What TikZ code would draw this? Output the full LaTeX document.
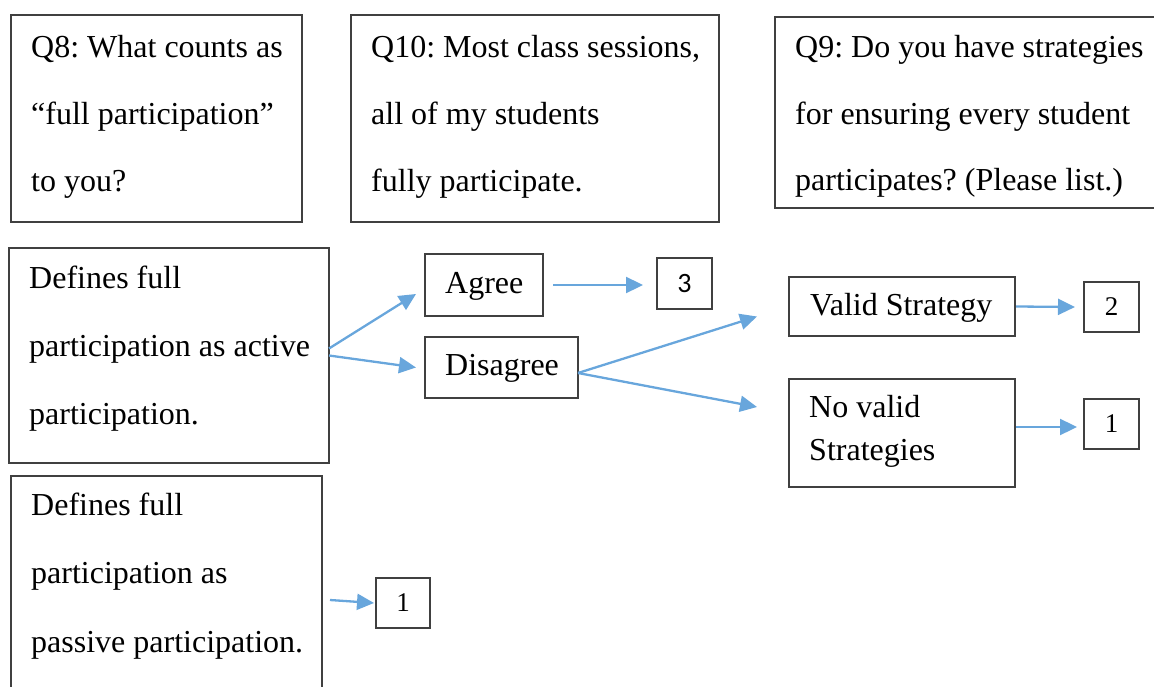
\documentclass[tikz,border=0pt]{standalone}
\usepackage{fontspec}
\setmainfont{Liberation Serif}
\newfontfamily\numsans{Carlito}
\usetikzlibrary{arrows.meta}
\definecolor{boxline}{RGB}{64,64,64}
\definecolor{flow}{RGB}{104,166,220}
\frenchspacing
\begin{document}
\begin{tikzpicture}[x=1pt,y=-1pt,
  box/.style={draw=boxline, line width=1.6pt, anchor=north west, inner sep=0pt, outer sep=0pt},
  txt/.style={anchor=base west, inner sep=0pt, font=\fontsize{32}{38}\selectfont},
  num/.style={font=\fontsize{27}{32}\selectfont},
  arr/.style={draw=flow, line width=2.3pt, -{Triangle[length=17pt,width=16pt]}}]
\useasboundingbox (0,0) rectangle (1154,687);

% question boxes
\node[box, minimum width=291, minimum height=207] (q8)  at (11,15) {};
\node[box, minimum width=368, minimum height=207] (q10) at (351,15) {};
\node[box, minimum width=390, minimum height=191] (q9)  at (775,17) {};

\node[txt] (q8a) at (31,58)  {Q8: What counts as};
\node[txt] (q8b) at (31,125) {“full participation”};
\node[txt] (q8c) at (31,192) {to you?};

\node[txt] (q10a) at (371,58)  {Q10: Most class sessions,};
\node[txt] (q10b) at (371,125) {all of my students};
\node[txt] (q10c) at (371,192) {fully participate.};

\begin{scope}
  \clip (775,17) rectangle (1160,197);
  \node[txt] (q9a) at (795,58)  {Q9: Do you have strategies};
  \node[txt] (q9b) at (795,125) {for ensuring every student};
  \node[txt] (q9c) at (795,191) {participates? (Please list.)};
\end{scope}

% answer boxes
\node[box, minimum width=320, minimum height=215] (act) at (9,248) {};
\node[txt] at (29,288) {Defines full};
\node[txt] at (29,356) {participation as active};
\node[txt] at (29,424) {participation.};

\node[box, minimum width=311, minimum height=248] (pas) at (11,476) {};
\node[txt] at (31,515) {Defines full};
\node[txt] at (31,583) {participation as};
\node[txt] at (31,652) {passive participation.};

\node[box, minimum width=118, minimum height=62] (agr) at (425,254) {};
\node[txt] at (445,293) {Agree};
\node[box, minimum width=153, minimum height=61] (dis) at (425,337) {};
\node[txt] at (445,375) {Disagree};

\node[box, minimum width=226, minimum height=59] (val) at (789,277) {};
\node[txt] at (810,315) {Valid Strategy};
\node[box, minimum width=226, minimum height=108] (nov) at (789,379) {};
\node[txt] at (809,417) {No valid};
\node[txt] at (809,460) {Strategies};

% counts
\node[box, num, minimum width=55, minimum height=51] (n3)  at (657,258)  {\numsans\fontsize{28}{32}\selectfont 3};
\node[box, num, minimum width=55, minimum height=50] (n2)  at (1084,282) {2};
\node[box, num, minimum width=55, minimum height=50] (n1)  at (1084,399) {1};
\node[box, num, minimum width=54, minimum height=50] (n1b) at (376,578)  {1};

% connectors
\draw[arr] ([yshift=7pt]act.east) -- ([xshift=-9pt,yshift=-9pt]agr.west);
\draw[arr] (act.east) -- ([xshift=-9pt]dis.west);
\draw[arr] ([xshift=10pt]agr.east) -- ([xshift=-14pt,yshift=-1.5pt]n3.west);
\draw[arr] ([yshift=-5.5pt]dis.east) -- ([xshift=-32pt,yshift=-10pt]val.west);
\draw[arr] ([yshift=-5.5pt]dis.east) -- ([xshift=-32pt,yshift=26pt]nov.west);
\draw[arr] ([xshift=1pt]val.east) -- ([xshift=-9pt]n2.west);
\draw[arr] ([xshift=1pt,yshift=6pt]nov.east) -- ([xshift=-7pt,yshift=-3pt]n1.west);
\draw[arr] ([xshift=8pt]pas.east) -- ([xshift=-2pt]n1b.west);
\end{tikzpicture}
\end{document}
